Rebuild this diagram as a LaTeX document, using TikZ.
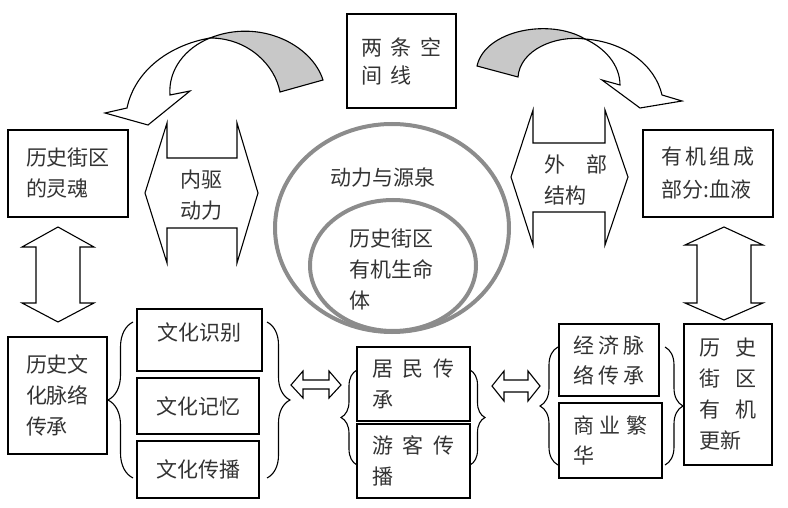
\documentclass[tikz,border=0pt]{standalone}
\usepackage{fontspec}
\setmainfont{Noto Sans CJK SC}
\usepackage{tikz}
\usetikzlibrary{decorations.pathreplacing, positioning, calc}
\definecolor{ringgray}{RGB}{140, 140, 140}
\definecolor{backgray}{RGB}{200, 200, 200}

\begin{document}
\begin{tikzpicture}[x=1pt, y=-1pt,
        box/.style={draw, line width=1.1pt, align=left, text=black!80, font=\fontsize{21}{31}\selectfont},
        lbl/.style={align=left, text=black!80, font=\fontsize{21}{31}\selectfont},
        ring/.style={draw=ringgray, line width=4pt},
        blk/.style={draw, line width=1.1pt, fill=white, line join=miter},
        brc/.style={draw, line width=1.1pt, decorate, decoration={brace, amplitude=#1}},
        brc/.default=20]
    \useasboundingbox (0,0) rectangle (788,508);

    % upper row
    \node[box, minimum width=109, minimum height=94, font=\fontsize{21}{28}\selectfont] (twolines) at (401.5,61) {两\hspace{9pt}条\hspace{9pt}空\\间\hspace{9pt}线};
    \node[box, minimum width=120, minimum height=87] (soul) at (68,173.5) {历史街区\\的灵魂};
    \node[box, minimum width=130, minimum height=87, font=\fontsize{21}{33}\selectfont] (blood) at (708,173.5) {有\hspace{3pt}机\hspace{3pt}组\hspace{3pt}成\\部分:血液};

    % curved arrows, left
    \draw[blk, fill=backgray] (280,92) -- (323,80) .. controls (312,45) and (260,18) .. (210,38) .. controls (248,38) and (275,65) .. (280,92) -- cycle;
    \draw[blk] (210,38) .. controls (170,45) and (135,70) .. (127,108) -- (105,113) -- (148,125) -- (190,91) -- (170,95) .. controls (168,70) and (185,48) .. (210,38) -- cycle;
    % curved arrows, right
    \draw[blk, fill=backgray] (477,66) .. controls (485,30) and (550,18) .. (585,39) .. controls (555,35) and (520,50) .. (518,77) -- cycle;
    \draw[blk] (585,39) .. controls (625,42) and (655,65) .. (662,95) -- (682,101) -- (640,108) -- (602,80) -- (620,85) .. controls (620,65) and (605,48) .. (585,39) -- cycle;

    % big double arrows
    \draw[blk] (145,193) -- (167,123) -- (167,158) -- (237,158) -- (237,123) -- (258,193) -- (237,263) -- (237,228) -- (167,228) -- (167,263) -- cycle;
    \node[lbl] (inner) at (201,195) {内驱\\动力};
    \draw[blk] (511,177) -- (533,110) -- (533,143) -- (605,143) -- (605,110) -- (628,177) -- (605,245) -- (605,212) -- (533,212) -- (533,245) -- cycle;
    \node[lbl] (outer) at (576,180) {外\hspace{22pt}部\\结构};

    \draw[blk] (58,227) -- (94,247) -- (80,247) -- (80,303) -- (94,303) -- (58,322) -- (22,303) -- (36,303) -- (36,247) -- (22,247) -- cycle;
    \draw[blk] (724,227) -- (763,245) -- (751,245) -- (751,303) -- (763,303) -- (724,320) -- (685,303) -- (697,303) -- (697,245) -- (685,245) -- cycle;

    % rings in the middle
    \draw[ring] (392,228) ellipse [x radius=117pt, y radius=104pt];
    \draw[ring] (393,265.5) ellipse [x radius=83pt, y radius=65.5pt];
    \node[lbl] (power) at (382.5,178) {动力与源泉};
    \node[lbl] (life) at (391,269) {历史街区\\有机生命\\体};

    % lower row, left
    \node[box, minimum width=99, minimum height=117] (context) at (57.5,395.5) {历史文\\化脉络\\传承};
    \node[box, minimum width=125, minimum height=62, text depth=16pt] (ident) at (199.5,340) {文化识别};
    \node[box, minimum width=122, minimum height=56] (memory) at (198,406) {文化记忆};
    \node[box, minimum width=122, minimum height=57] (spread) at (198,469.5) {文化传播};
    \draw[brc=25] (133,478) -- (133,322);
    \draw[brc=23] (267,322) -- (267,478);
    \draw[blk] (291,385) -- (303,371) -- (303,380) -- (329,380) -- (329,371) -- (341,385) -- (329,398) -- (329,389) -- (303,389) -- (303,398) -- cycle;

    % lower row, middle
    \node[box, minimum width=113, minimum height=74] (resident) at (413.5,384) {居\hspace{10pt}民\hspace{10pt}传\\承};
    \node[box, minimum width=113, minimum height=74] (tourist) at (413.5,461) {游\hspace{10pt}客\hspace{10pt}传\\播};
    \draw[brc=16] (357,465) -- (357,370);
    \draw[brc=15] (470,370) -- (470,465);
    \draw[blk] (492,386) -- (504,371) -- (504,380) -- (528,380) -- (528,371) -- (540,386) -- (528,401) -- (528,392) -- (504,392) -- (504,401) -- cycle;

    % lower row, right
    \node[box, minimum width=100, minimum height=72, font=\fontsize{21}{30}\selectfont] (economy) at (609,360) {经\hspace{4pt}济\hspace{4pt}脉\\络\hspace{4pt}传\hspace{4pt}承};
    \node[box, minimum width=103, minimum height=75, font=\fontsize{21}{30}\selectfont] (commerce) at (610.5,440.5) {商\hspace{6pt}业\hspace{6pt}繁\\华};
    \draw[brc=18] (558,465) -- (558,347);
    \draw[brc=18] (665,347) -- (665,465);
    \node[box, minimum width=88, minimum height=141] (renewal) at (728,394.5) {历\hspace{16pt}史\\街\hspace{16pt}区\\有\hspace{16pt}机\\更新};
\end{tikzpicture}
\end{document}
